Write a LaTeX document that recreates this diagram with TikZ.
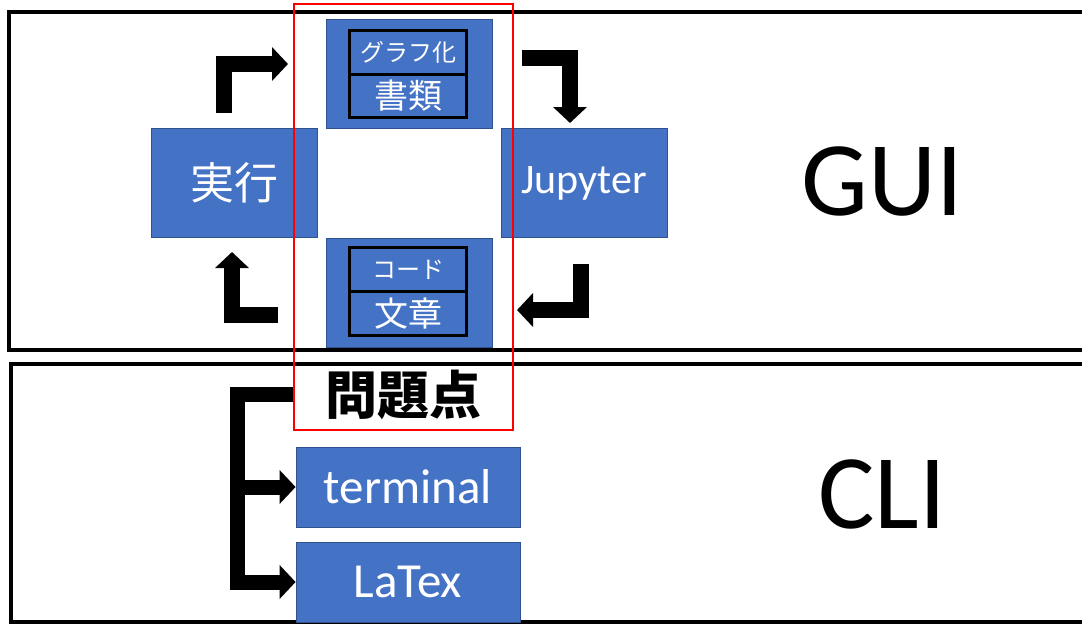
\documentclass[tikz,border=0pt]{standalone}
\usepackage{fontspec}
\setmainfont{Carlito}
\newfontfamily\jpfont{Noto Sans CJK JP}
\usetikzlibrary{arrows.meta,positioning}
\definecolor{officeblue}{HTML}{4472C4}
\definecolor{edgeblue}{HTML}{2F528F}
\definecolor{alertred}{HTML}{FF0000}
\newcommand{\fs}[1]{\fontsize{#1}{#1}\selectfont}

\begin{document}
\begin{tikzpicture}[x=1pt,y=-1pt,
  box/.style={draw=edgeblue,fill=officeblue,text=white,line width=0.8pt,inner sep=0pt},
  bigbox/.style={box,minimum width=166pt,minimum height=109pt},
  clibox/.style={box,minimum width=224pt,minimum height=80pt,font=\fs{49}},
  cell/.style={draw=black,line width=3pt,text=white,inner sep=0pt,outer sep=0pt,
               minimum width=117pt,minimum height=44pt},
  frame/.style={draw=black,line width=4pt},
  bent/.style={line width=16pt,-{Triangle[length=16pt,width=33pt]}},
]
\useasboundingbox (0,0) rectangle (1082,624);

\draw[frame] (9,12) rectangle (1110,350);
\draw[frame] (11,364) rectangle (1110,622);

\node[bigbox,font=\jpfont\fs{44}] (run) at (234,183) {実行};
\node[bigbox,font=\fs{42}] (jup) at (584,183) {Jupyter};
\node[bigbox] (docs) at (409,74) {};
\node[cell,font=\jpfont\fs{24}] (graph) at (408,52) {グラフ化};
\node[cell,below=0pt of graph,minimum height=43pt,font=\jpfont\fs{34}] (papers) {書類};
\node[bigbox] (codes) at (409,292.5) {};
\node[cell,font=\jpfont\fs{24}] (code) at (408,269.5) {コード};
\node[cell,below=0pt of code,font=\jpfont\fs{34}] (prose) {文章};

\node[font=\fs{106}] (gui) at (882,181) {GUI};
\node[font=\fs{106}] (cli) at (882,494) {CLI};

\node[font=\jpfont\bfseries\fs{52}] (issue) at (403,395) {問題点};
\node[clibox] (term) at (408,487) {terminal};
\node[clibox] (latex) at (408,582) {LaTex};

\draw[alertred,line width=2pt] (294,4) rectangle (513,430);

\coordinate (tls) at (224,113);
\coordinate (tle) at (288,64);
\coordinate (trs) at (522,58);
\coordinate (tre) at (570,123);
\coordinate (brs) at (581,264);
\coordinate (bre) at (517,310);
\coordinate (bls) at (278,315);
\coordinate (ble) at (232,252);
\draw[bent] (tls) |- (tle);
\draw[bent] (trs) -| (tre);
\draw[bent] (brs) |- (bre);
\draw[bent] (bls) -| (ble);

\coordinate (brk) at (293,394);
\coordinate (spine) at (237,487);
\draw[bent,line width=15pt] (brk) -| (latex.west -| spine) -- (latex.west);
\draw[bent,line width=15pt] (spine) -- (term.west);
\end{tikzpicture}
\end{document}
